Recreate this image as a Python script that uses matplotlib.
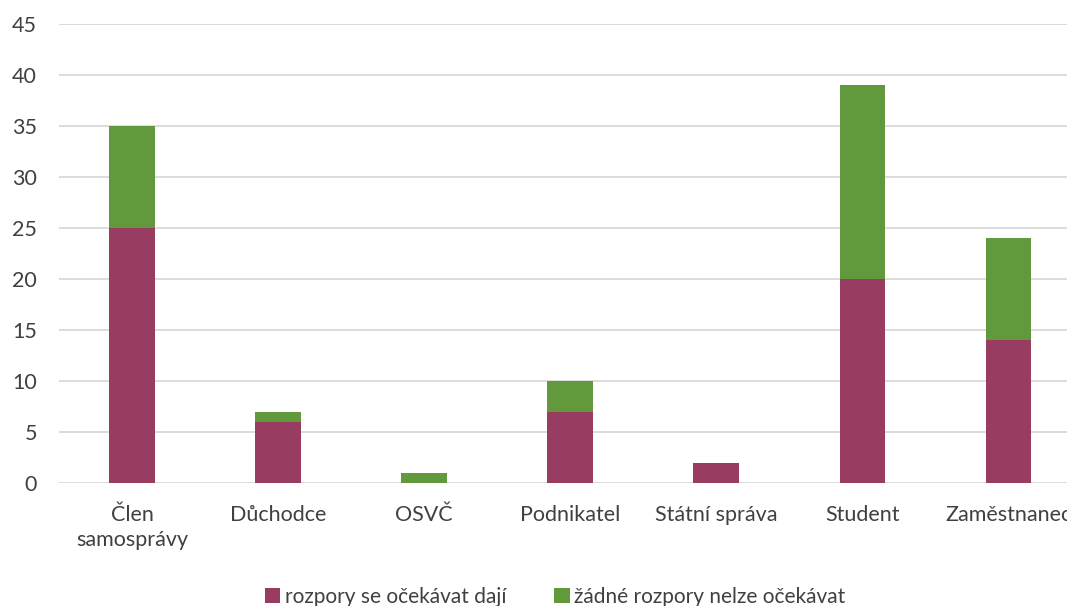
import numpy as np
import matplotlib.pyplot as plt

plt.rcParams['font.family'] = ['Lato', 'DejaVu Sans']

categories = ['Člen\nsamosprávy', 'Důchodce', 'OSVČ', 'Podnikatel',
              'Státní správa', 'Student', 'Zaměstnanec']
rozpory = [25, 6, 0, 7, 2, 20, 14]
zadne = [10, 1, 1, 3, 0, 19, 10]
series_labels = ['rozpory se očekávat dají', 'žádné rozpory nelze očekávat']

c_red = '#993C61'
c_green = '#61993C'
txt = '#404040'

fig = plt.figure(figsize=(10.67, 6.06), dpi=100)
ax = fig.add_axes([0.0553, 0.203, 0.958, 0.757])

x = np.arange(len(categories))
w = 0.31
ax.bar(x, rozpory, w, color=c_red, label=series_labels[0], zorder=3)
ax.bar(x, zadne, w, bottom=rozpory, color=c_green, label=series_labels[1], zorder=3)

ax.set_xlim(-0.5, len(categories) - 0.5)
ax.set_ylim(0, 45)
ax.set_yticks(np.arange(0, 46, 5))
ax.yaxis.grid(True, color='#D9D9D9', linewidth=1.3, zorder=0)
ax.set_axisbelow(True)
for s in ax.spines.values():
    s.set_visible(False)
ax.tick_params(length=0, labelsize=15.5, colors=txt)
ax.tick_params(axis='x', pad=16)
ax.tick_params(axis='y', pad=16)
ax.set_xticks(x)
ax.set_xticklabels(categories, linespacing=1.3)

fig.legend(loc='lower center', bbox_to_anchor=(0.52, -0.032), ncol=2,
           frameon=False, fontsize=15, handlelength=0.75, handleheight=0.75,
           handletextpad=0.2, columnspacing=2.3, labelcolor=txt)

fig.savefig('out.png', dpi=100)
